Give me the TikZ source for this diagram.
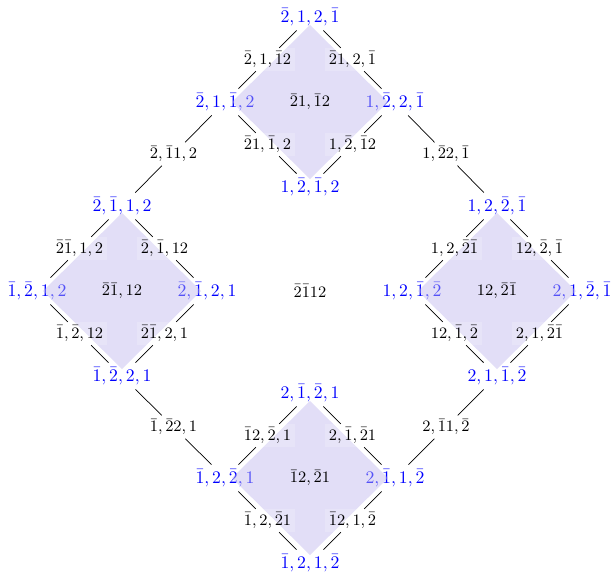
\documentclass[tikz,border=0pt]{standalone}
\usetikzlibrary{calc}
\begin{document}
\begin{tikzpicture}[x=0.565pt,y=-0.565pt,
  vtx/.style={text=blue, inner sep=2.5pt},
  elab/.style={font=\small, fill=white, fill opacity=0.18, text opacity=1, inner sep=2pt},
  clab/.style={font=\small},
  shadefill/.style={fill={rgb,255:red,190;green,182;blue,238}, fill opacity=0.45},
  conn/.style={draw=black, line width=0.4pt}]
\useasboundingbox (0,0) rectangle (611,577);
% top diamond
\node[vtx] (tT) at (310,17) {$\bar2,1,2,\bar1$};
\node[vtx] (tL) at (225,102) {$\bar2,1,\bar1,2$};
\node[vtx] (tR) at (395,102) {$1,\bar2,2,\bar1$};
\node[vtx] (tB) at (310,187) {$1,\bar2,\bar1,2$};
% left diamond
\node[vtx] (lT) at (122,206) {$\bar2,\bar1,1,2$};
\node[vtx] (lL) at (37,291) {$\bar1,\bar2,1,2$};
\node[vtx] (lR) at (207,291) {$\bar2,\bar1,2,1$};
\node[vtx] (lB) at (122,376) {$\bar1,\bar2,2,1$};
% right diamond
\node[vtx] (rT) at (497,206) {$1,2,\bar2,\bar1$};
\node[vtx] (rL) at (412,291) {$1,2,\bar1,\bar2$};
\node[vtx] (rR) at (582,291) {$2,1,\bar2,\bar1$};
\node[vtx] (rB) at (497,376) {$2,1,\bar1,\bar2$};
% bottom diamond
\node[vtx] (bT) at (310,393) {$2,\bar1,\bar2,1$};
\node[vtx] (bL) at (225,478) {$\bar1,2,\bar2,1$};
\node[vtx] (bR) at (395,478) {$2,\bar1,1,\bar2$};
\node[vtx] (bB) at (310,563) {$\bar1,2,1,\bar2$};
% shading
\fill[shadefill] (310,25) -- (388,102) -- (310,179) -- (232,102) -- cycle;
\fill[shadefill] (122,213) -- (201,291) -- (122,369) -- (43,291) -- cycle;
\fill[shadefill] (497,213) -- (576,291) -- (497,369) -- (418,291) -- cycle;
\fill[shadefill] (310,401) -- (388,478) -- (310,555) -- (232,478) -- cycle;
% centre labels
\node[clab] (tC) at (310,102) {$\bar21,\bar12$};
\node[clab] (lC) at (122,291) {$\bar2\bar1,12$};
\node[clab] (rC) at (497,291) {$12,\bar2\bar1$};
\node[clab] (bC) at (310,478) {$\bar12,\bar21$};
\node[clab] (mC) at (310,291) {$\bar2\bar112$};
% edge labels, top diamond
\node[elab] (tTL) at ($(tT)!0.5!(tL)$) {$\bar2,1,\bar12$};
\node[elab] (tTR) at ($(tT)!0.5!(tR)$) {$\bar21,2,\bar1$};
\node[elab] (tBL) at ($(tB)!0.5!(tL)$) {$\bar21,\bar1,2$};
\node[elab] (tBR) at ($(tB)!0.5!(tR)$) {$1,\bar2,\bar12$};
% left diamond
\node[elab] (lTL) at ($(lT)!0.5!(lL)$) {$\bar2\bar1,1,2$};
\node[elab] (lTR) at ($(lT)!0.5!(lR)$) {$\bar2,\bar1,12$};
\node[elab] (lBL) at ($(lB)!0.5!(lL)$) {$\bar1,\bar2,12$};
\node[elab] (lBR) at ($(lB)!0.5!(lR)$) {$\bar2\bar1,2,1$};
% right diamond
\node[elab] (rTL) at ($(rT)!0.5!(rL)$) {$1,2,\bar2\bar1$};
\node[elab] (rTR) at ($(rT)!0.5!(rR)$) {$12,\bar2,\bar1$};
\node[elab] (rBL) at ($(rB)!0.5!(rL)$) {$12,\bar1,\bar2$};
\node[elab] (rBR) at ($(rB)!0.5!(rR)$) {$2,1,\bar2\bar1$};
% bottom diamond
\node[elab] (bTL) at ($(bT)!0.5!(bL)$) {$\bar12,\bar2,1$};
\node[elab] (bTR) at ($(bT)!0.5!(bR)$) {$2,\bar1,\bar21$};
\node[elab] (bBL) at ($(bB)!0.5!(bL)$) {$\bar1,2,\bar21$};
\node[elab] (bBR) at ($(bB)!0.5!(bR)$) {$\bar12,1,\bar2$};
% connectors between diamonds
\node[elab] (cTL) at ($(tL)!0.5!(lT)$) {$\bar2,\bar11,2$};
\node[elab] (cTR) at ($(tR)!0.5!(rT)$) {$1,\bar22,\bar1$};
\node[elab] (cBL) at ($(lB)!0.5!(bL)$) {$\bar1,\bar22,1$};
\node[elab] (cBR) at ($(rB)!0.5!(bR)$) {$2,\bar11,\bar2$};
% lines
\draw[conn] (tT) -- (tTL) -- (tL);
\draw[conn] (tT) -- (tTR) -- (tR);
\draw[conn] (tB) -- (tBL) -- (tL);
\draw[conn] (tB) -- (tBR) -- (tR);
\draw[conn] (lT) -- (lTL) -- (lL);
\draw[conn] (lT) -- (lTR) -- (lR);
\draw[conn] (lB) -- (lBL) -- (lL);
\draw[conn] (lB) -- (lBR) -- (lR);
\draw[conn] (rT) -- (rTL) -- (rL);
\draw[conn] (rT) -- (rTR) -- (rR);
\draw[conn] (rB) -- (rBL) -- (rL);
\draw[conn] (rB) -- (rBR) -- (rR);
\draw[conn] (bT) -- (bTL) -- (bL);
\draw[conn] (bT) -- (bTR) -- (bR);
\draw[conn] (bB) -- (bBL) -- (bL);
\draw[conn] (bB) -- (bBR) -- (bR);
\draw[conn] (tL) -- (cTL) -- (lT);
\draw[conn] (tR) -- (cTR) -- (rT);
\draw[conn] (lB) -- (cBL) -- (bL);
\draw[conn] (rB) -- (cBR) -- (bR);
\end{tikzpicture}
\end{document}
